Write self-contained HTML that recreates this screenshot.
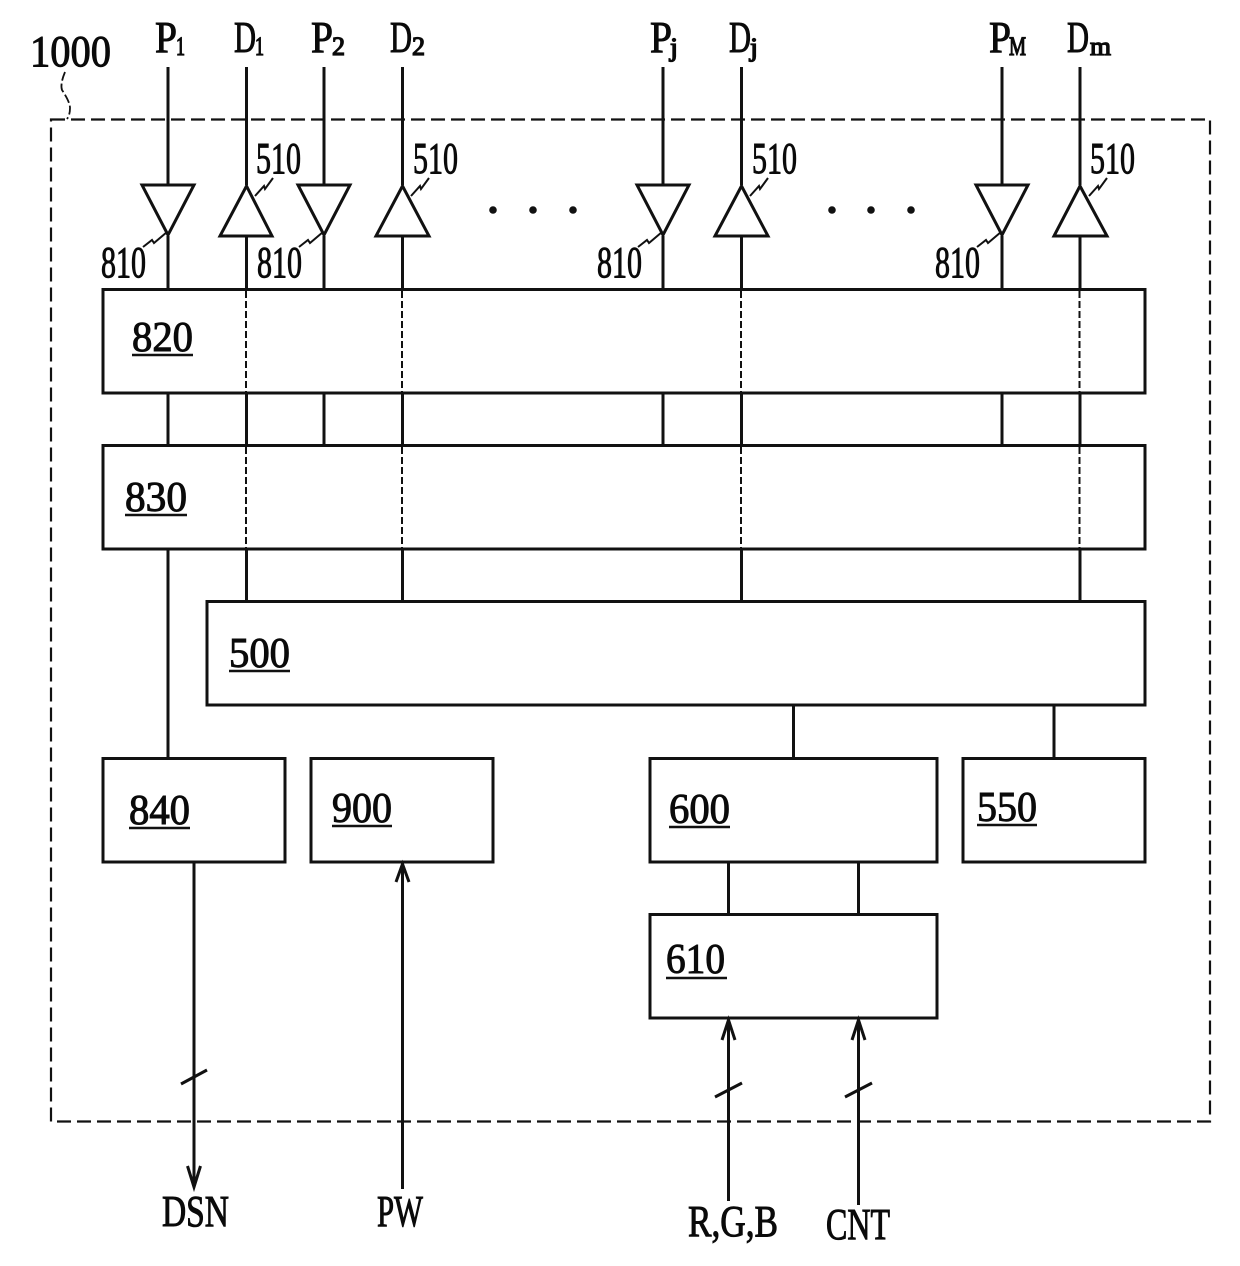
<!DOCTYPE html>
<html>
<head>
<meta charset="utf-8">
<style>
html,body{margin:0;padding:0;background:#fff}
svg{display:block}
text{font-family:"Liberation Serif",serif;fill:#0a0a0a;stroke:#0a0a0a;stroke-width:1}
.s text{stroke-width:1.3}
</style>
</head>
<body>
<svg width="1240" height="1266" viewBox="0 0 1240 1266" xmlns="http://www.w3.org/2000/svg">
<rect width="1240" height="1266" fill="#fff"/>
<rect x="51" y="119.500" width="1159" height="1002" fill="none" stroke="#111" stroke-width="2.200" stroke-dasharray="14 6"/>
<path d="M65 72Q60 84 62 90Q70 102 70 108Q70 115 67 119" fill="none" stroke="#111" stroke-width="1.800" stroke-dasharray="9 3"/>
<g fill="none" stroke="#111" stroke-width="3">
<rect x="103" y="289.500" width="1042" height="103.500"/>
<rect x="103" y="445.500" width="1042" height="103.500"/>
<rect x="207" y="601.500" width="938" height="103.500"/>
<rect x="103" y="758.500" width="182" height="103.500"/>
<rect x="311" y="758.500" width="182" height="103.500"/>
<rect x="650" y="758.500" width="287" height="103.500"/>
<rect x="963" y="758.500" width="182" height="103.500"/>
<rect x="650" y="914.500" width="287" height="103.500"/>
<path d="M168 67V185M168 236V289M168 393V445M168 549V758"/>
<path d="M324 67V185M324 236V289M324 393V445"/>
<path d="M663 67V185M663 236V289M663 393V445"/>
<path d="M1002 67V185M1002 236V289M1002 393V445"/>
<path d="M246.500 67V185M246.500 236V289M246.500 393V445M246.500 549V601"/>
<path d="M402.500 67V185M402.500 236V289M402.500 393V445M402.500 549V601"/>
<path d="M741.500 67V185M741.500 236V289M741.500 393V445M741.500 549V601"/>
<path d="M1080 67V185M1080 236V289M1080 393V445M1080 549V601"/>
<path d="M142 185H194L168 235ZM298 185H350L324 235ZM637 185H689L663 235ZM976 185H1028L1002 235Z"/>
<path d="M220 236H272L246.500 186ZM376 236H429L402.500 186ZM715 236H768L741.500 186ZM1054 236H1107L1080 186Z"/>
<path d="M793.500 705V758M1054 705V758M728.500 862V914M858.500 862V914"/>
<path d="M194 862V1187M402.500 862V1189M728.500 1018V1201M858.500 1018V1205"/>
<path d="M187.500 1166L194 1187L200.500 1166"/>
<path d="M396 882L402.500 864L409 882M722 1040L728.500 1020L735 1040M852 1040L858.500 1020L865 1040"/>
<path d="M181 1084L207 1070M715 1097L742 1083M845 1097L872 1083"/>
</g>
<g fill="none" stroke="#111" stroke-width="2" stroke-dasharray="7 3">
<path d="M246 291V392M402 291V392M741 291V392M1079.500 291V392"/>
<path d="M246 447V548M402 447V548M741 447V548M1079.500 447V548"/>
</g>
<g fill="none" stroke="#111" stroke-width="2">
<path d="M255 196L264 186L265 189L273 178"/>
<path d="M411 196L420 186L421 189L429 178"/>
<path d="M750 196L759 186L760 189L768 178"/>
<path d="M1089 196L1098 186L1099 189L1107 178"/>
<path d="M143 247L152 240L154 243L167 232"/>
<path d="M299 247L308 240L310 243L323 232"/>
<path d="M638 247L647 240L649 243L662 232"/>
<path d="M977 247L986 240L988 243L1001 232"/>
</g>
<g fill="#111">
<circle cx="493" cy="210" r="3.800"/><circle cx="533" cy="210" r="3.800"/><circle cx="573" cy="210" r="3.800"/>
<circle cx="832" cy="210" r="3.800"/><circle cx="871" cy="210" r="3.800"/><circle cx="911" cy="210" r="3.800"/>
</g>
<g stroke="#111" stroke-width="2.500">
<path d="M132 355H193M125 515H187M229 671H290M129 828H190M332 826H392M669 827H730M977 825H1037M666 978H727"/>
</g>
<g font-size="44">
<text x="155" y="52" textLength="22" lengthAdjust="spacingAndGlyphs">P</text>
<text x="234" y="52" textLength="22" lengthAdjust="spacingAndGlyphs">D</text>
<text x="311" y="52" textLength="22" lengthAdjust="spacingAndGlyphs">P</text>
<text x="390" y="52" textLength="22" lengthAdjust="spacingAndGlyphs">D</text>
<text x="650" y="52" textLength="22" lengthAdjust="spacingAndGlyphs">P</text>
<text x="729" y="52" textLength="22" lengthAdjust="spacingAndGlyphs">D</text>
<text x="989" y="52" textLength="22" lengthAdjust="spacingAndGlyphs">P</text>
<text x="1067" y="52" textLength="22" lengthAdjust="spacingAndGlyphs">D</text>
<text x="30" y="66" textLength="81" lengthAdjust="spacingAndGlyphs">1000</text>
</g>
<g class="s" font-size="26">
<text x="176" y="55" textLength="9" lengthAdjust="spacingAndGlyphs">1</text>
<text x="255" y="55" textLength="9" lengthAdjust="spacingAndGlyphs">1</text>
<text x="332" y="55" textLength="13" lengthAdjust="spacingAndGlyphs">2</text>
<text x="412" y="55" textLength="13" lengthAdjust="spacingAndGlyphs">2</text>
<text x="670" y="56" textLength="8" lengthAdjust="spacingAndGlyphs">j</text>
<text x="750" y="56" textLength="8" lengthAdjust="spacingAndGlyphs">j</text>
<text x="1009" y="55" textLength="17" lengthAdjust="spacingAndGlyphs">M</text>
<text x="1090" y="55" textLength="21" lengthAdjust="spacingAndGlyphs">m</text>
</g>
<g font-size="44">
<text x="256" y="173" textLength="45" lengthAdjust="spacingAndGlyphs">510</text>
<text x="413" y="173" textLength="45" lengthAdjust="spacingAndGlyphs">510</text>
<text x="752" y="173" textLength="45" lengthAdjust="spacingAndGlyphs">510</text>
<text x="1090" y="173" textLength="45" lengthAdjust="spacingAndGlyphs">510</text>
<text x="101" y="277" textLength="45" lengthAdjust="spacingAndGlyphs">810</text>
<text x="257" y="277" textLength="45" lengthAdjust="spacingAndGlyphs">810</text>
<text x="597" y="277" textLength="45" lengthAdjust="spacingAndGlyphs">810</text>
<text x="935" y="277" textLength="45" lengthAdjust="spacingAndGlyphs">810</text>
</g>
<g font-size="42">
<text x="132" y="351" textLength="61" lengthAdjust="spacingAndGlyphs">820</text>
<text x="125" y="511" textLength="62" lengthAdjust="spacingAndGlyphs">830</text>
<text x="229" y="667" textLength="61" lengthAdjust="spacingAndGlyphs">500</text>
<text x="129" y="824" textLength="61" lengthAdjust="spacingAndGlyphs">840</text>
<text x="332" y="822" textLength="60" lengthAdjust="spacingAndGlyphs">900</text>
<text x="669" y="823" textLength="61" lengthAdjust="spacingAndGlyphs">600</text>
<text x="977" y="821" textLength="60" lengthAdjust="spacingAndGlyphs">550</text>
<text x="666" y="973" textLength="59" lengthAdjust="spacingAndGlyphs">610</text>
</g>
<g font-size="44">
<text x="162" y="1226" textLength="67" lengthAdjust="spacingAndGlyphs">DSN</text>
<text x="377" y="1226" textLength="46" lengthAdjust="spacingAndGlyphs">PW</text>
<text x="688" y="1236" textLength="90" lengthAdjust="spacingAndGlyphs">R,G,B</text>
<text x="826" y="1239" textLength="64" lengthAdjust="spacingAndGlyphs">CNT</text>
</g>
</svg>
</body>
</html>
